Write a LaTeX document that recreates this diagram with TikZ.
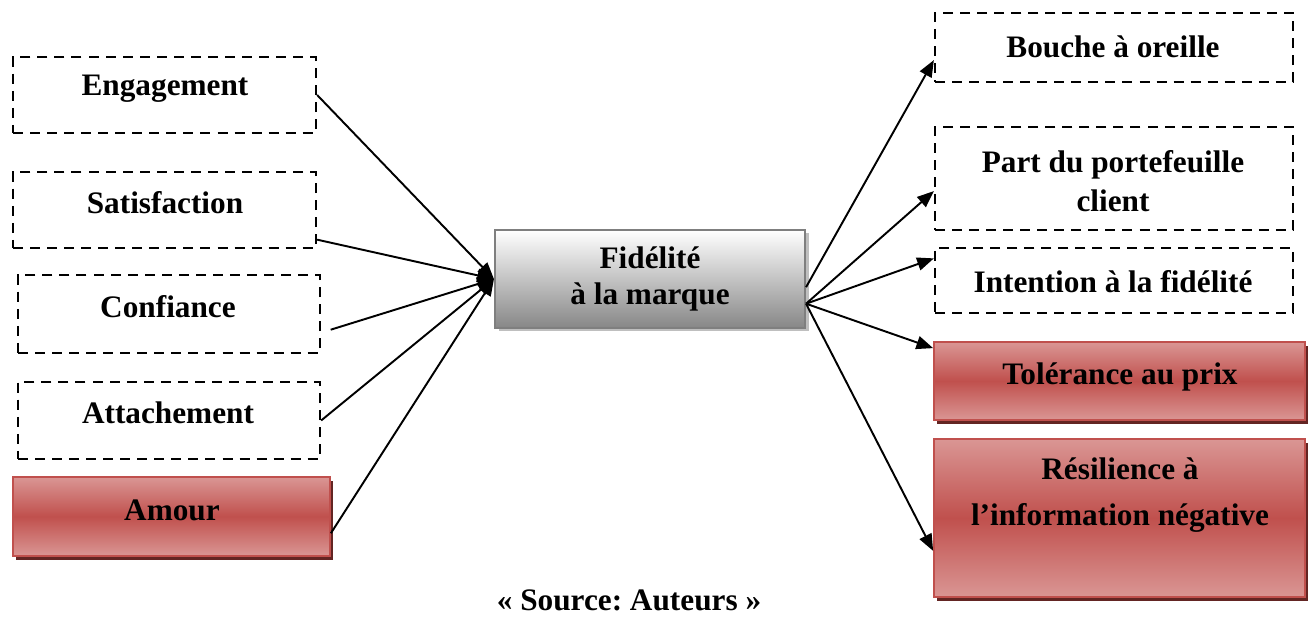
\documentclass[tikz,border=0pt]{standalone}
\usepackage{fontspec}
\setmainfont{Liberation Serif}
\usetikzlibrary{arrows.meta,fit,shadows}

\definecolor{boxred}{HTML}{C0504D}
\definecolor{lightred}{HTML}{DA9694}
\definecolor{shadowred}{HTML}{632523}
\definecolor{greyline}{HTML}{7F7F7F}
\definecolor{greydark}{HTML}{878787}
\definecolor{greyshadow}{HTML}{BFBFBF}

\begin{document}
\frenchspacing
\begin{tikzpicture}[x=0.02cm, y=-0.02cm,
    dbox/.style={draw, line width=1.3pt, dash pattern=on 5.7pt off 4pt, inner sep=0pt},
    redbox/.style={draw=boxred, line width=1pt, inner sep=0pt,
      top color=lightred, bottom color=lightred, middle color=boxred,
      drop shadow={shadow xshift=0.06cm, shadow yshift=-0.08cm, fill=shadowred, opacity=1}},
    greybox/.style={draw=greyline, line width=1.2pt, inner sep=0pt,
      top color=white, bottom color=greydark,
      drop shadow={shadow xshift=0.07cm, shadow yshift=-0.07cm, fill=greyshadow, opacity=1}},
    lbl/.style={font=\fontsize{17.8}{22}\selectfont\bfseries, align=center, inner sep=0pt},
    arr/.style={-{Triangle[length=9.5pt,width=7.5pt]}, line width=1.1pt}]

    \useasboundingbox (0,0) rectangle (1311,617);

    %% left side: the antecedents
    \node[dbox, fit={(13,57) (316,133)}] (eng) {};
    \node[dbox, fit={(13,172) (316,248)}] (sat) {};
    \node[dbox, fit={(18,275) (320,353)}] (conf) {};
    \node[dbox, fit={(18,382) (320,459)}] (att) {};
    \node[redbox, fit={(13,477) (330,556)}] (amour) {};

    \node[lbl] (engT) at (165,89) {Engagement};
    \node[lbl] (satT) at (165,203) {Satisfaction};
    \node[lbl] (confT) at (168,307) {Confiance};
    \node[lbl] (attT) at (168,413) {Attachement};
    \node[lbl] (amourT) at (172,510) {Amour};

    %% the centre
    \node[greybox, fit={(495,230) (805,328)}] (fid) {};
    \node[lbl, font=\fontsize{17.8}{21}\selectfont\bfseries] (fidT) at (650,279) {Fidélité\\à la marque};

    %% right side: the consequences
    \node[dbox, fit={(935,13) (1293,82)}] (bouche) {};
    \node[dbox, fit={(935,127) (1293,230)}] (part) {};
    \node[dbox, fit={(935,248) (1293,313)}] (intent) {};
    \node[redbox, fit={(934,342) (1305,420)}] (tol) {};
    \node[redbox, fit={(934,439) (1305,597)}] (resil) {};

    \node[lbl] (boucheT) at (1113,47) {Bouche à oreille};
    \node[lbl] (partT) at (1113,181) {Part du portefeuille\\client};
    \node[lbl] (intentT) at (1113,282) {Intention à la fidélité};
    \node[lbl] (tolT) at (1120,377) {Tolérance au prix};
    \node[lbl, font=\fontsize{17.8}{26}\selectfont\bfseries] (resilT) at (1120,495) {Résilience à\\l’information négative};

    %% arrows into the centre
    \draw[arr] (eng.east) -- (fid.west);
    \draw[arr] (sat.-11) -- (fid.west);
    \draw[arr, shorten <=0.2cm] (conf.-7) -- (fid.west);
    \draw[arr] (att.east) -- (fid.west);
    \draw[arr] (amour.-6) -- (fid.west);

    %% arrows out of the centre
    \draw[arr] (fid.-3) -- (bouche.184);
    \draw[arr] (fid.-9) -- (part.184);
    \draw[arr] (fid.-9) -- (intent.173.5);
    \draw[arr] (fid.-9) -- (tol.170.5);
    \draw[arr] (fid.-9) -- (resil.190.7);

    %% source
    \node[lbl] (src) at (629,600) {« Source: Auteurs »};
\end{tikzpicture}
\end{document}
